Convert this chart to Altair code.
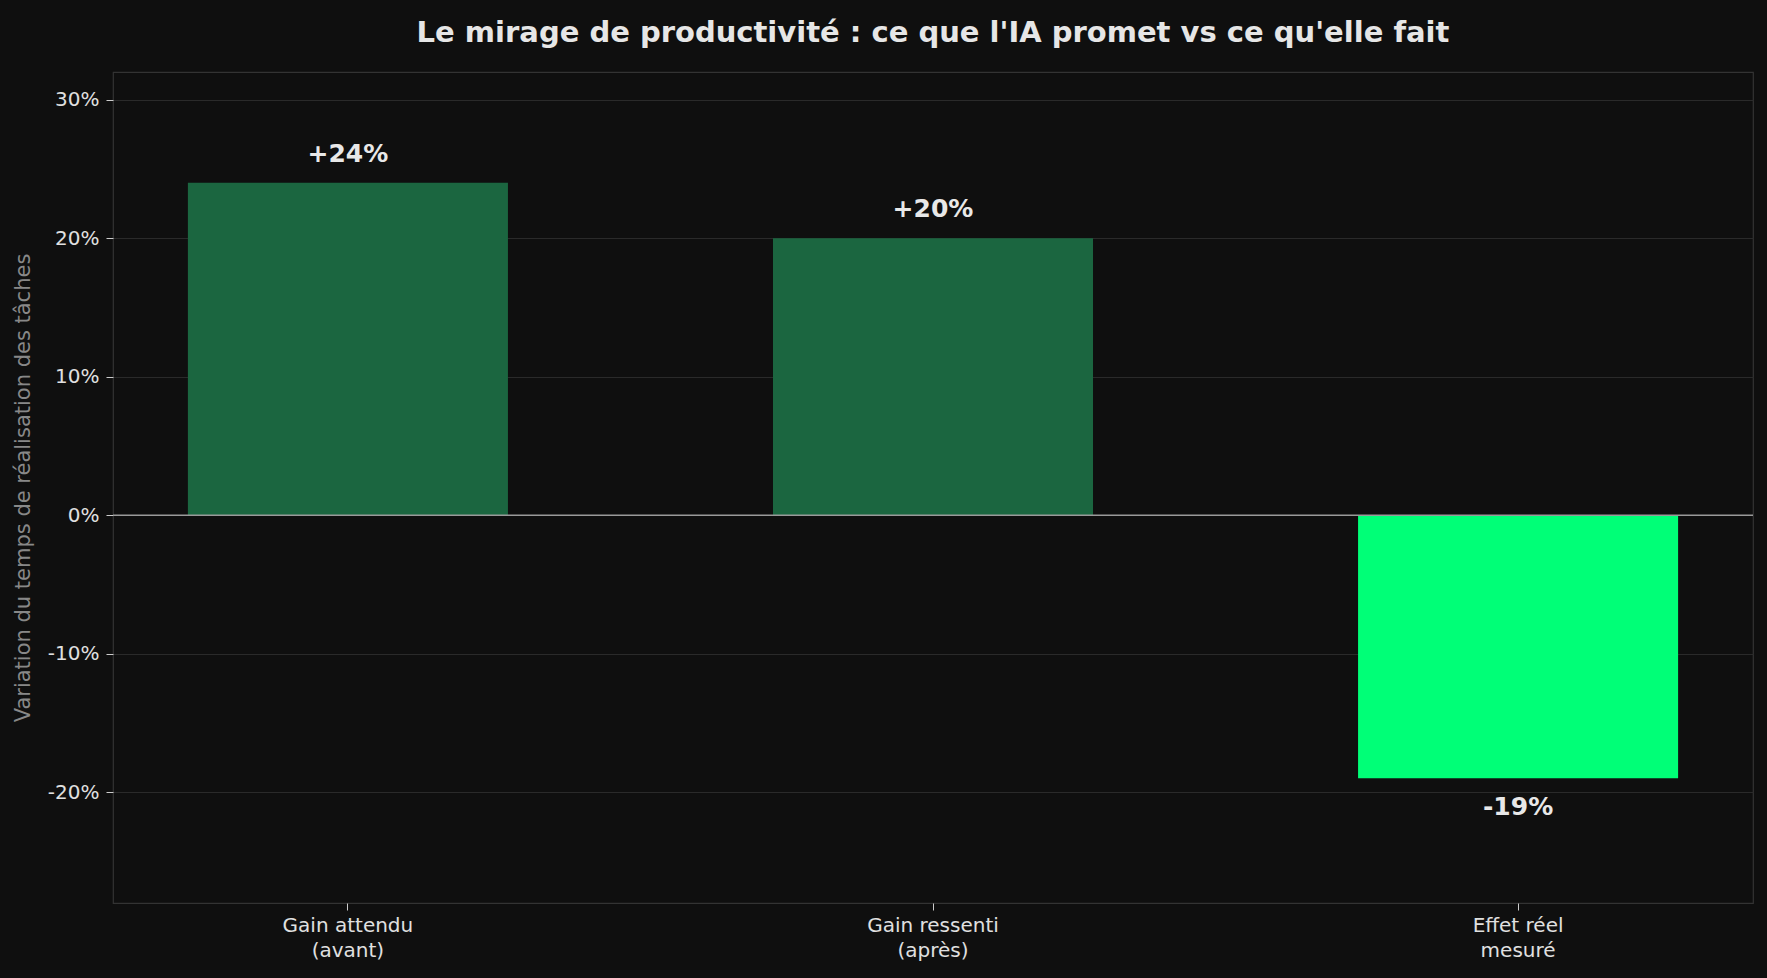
import altair as alt
import pandas as pd

categories = ["Gain attendu\n(avant)", "Gain ressenti\n(après)", "Effet réel\nmesuré"]
values = [24, 20, -19]
labels = ["+24%", "+20%", "-19%"]
colors = ["#1b6640", "#1b6640", "#00ff77"]
y_ticks = [-20, -10, 0, 10, 20, 30]

df = pd.DataFrame({"cat": categories, "val": values, "lab": labels, "col": colors})

FONT = "DejaVu Sans"

x_enc = alt.X(
    "cat:N",
    sort=categories,
    title=None,
    scale=alt.Scale(paddingInner=0.453, paddingOuter=0.128),
    axis=alt.Axis(
        labelExpr="split(datum.label, '\\n')",
        labelAngle=0,
        labelFont=FONT,
        labelFontSize=20,
        labelColor="#e0e0e0",
        labelLineHeight=25,
        labelPadding=5,
        tickColor="#cccccc",
        tickSize=7,
        domain=False,
        grid=False,
    ),
)
y_scale = alt.Scale(domain=[-28, 32], nice=False, zero=False)

bars = alt.Chart(df).mark_bar().encode(
    x=x_enc,
    y=alt.Y(
        "val:Q",
        scale=y_scale,
        title="Variation du temps de réalisation des tâches",
        axis=alt.Axis(
            values=y_ticks,
            labelExpr="datum.value + '%'",
            labelFont=FONT,
            labelFontSize=20,
            labelColor="#e0e0e0",
            labelPadding=7,
            tickColor="#cccccc",
            tickSize=7,
            domain=False,
            grid=True,
            gridColor="#2a2a2a",
            gridWidth=1.2,
            titleFont=FONT,
            titleFontSize=21,
            titleFontWeight="normal",
            titleColor="#888888",
            titlePadding=14,
        ),
    ),
    color=alt.Color("col:N", scale=None, legend=None),
)

zero = alt.Chart(pd.DataFrame({"z": [0]})).mark_rule(color="#9a9a9a", strokeWidth=1.5).encode(
    y=alt.Y("z:Q", scale=y_scale)
)

pos_text = alt.Chart(df).transform_filter("datum.val >= 0").mark_text(
    font=FONT, fontSize=25, fontWeight="bold", color="#e8e8e8", baseline="middle", dy=-29
).encode(x=alt.X("cat:N", sort=categories), y=alt.Y("val:Q", scale=y_scale), text="lab:N")

neg_text = alt.Chart(df).transform_filter("datum.val < 0").mark_text(
    font=FONT, fontSize=25, fontWeight="bold", color="#e8e8e8", baseline="middle", dy=29
).encode(x=alt.X("cat:N", sort=categories), y=alt.Y("val:Q", scale=y_scale), text="lab:N")

chart = alt.layer(bars, zero, pos_text, neg_text).properties(
    width=1640,
    height=831,
    background="#0f0f0f",
    padding={"left": 113, "top": 72, "right": 14, "bottom": 75},
    autosize=alt.AutoSizeParams(type="none"),
    title=alt.TitleParams(
        text="Le mirage de productivité : ce que l'IA promet vs ce qu'elle fait",
        font=FONT,
        fontSize=29,
        fontWeight="bold",
        color="#e6e6e6",
        anchor="middle",
        baseline="middle",
        offset=10,
    ),
).configure_view(
    stroke="#333333", strokeWidth=1.2, fill="#0f0f0f"
)

chart.save("out.html", embed_options={"renderer": "svg", "actions": False})
